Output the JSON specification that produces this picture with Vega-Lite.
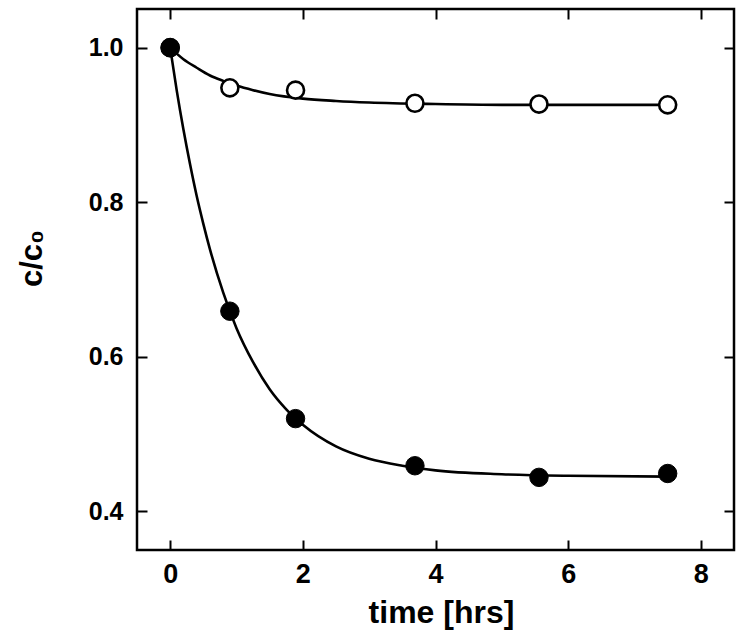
{
  "$schema": "https://vega.github.io/schema/vega-lite/v6.json",
  "width": 597,
  "height": 541,
  "autosize": {"type": "none"},
  "padding": {"left": 137, "top": 9, "right": 16, "bottom": 89},
  "background": "white",
  "config": {
    "view": {"stroke": "black", "strokeWidth": 2.5},
    "axis": {
      "domain": false,
      "grid": false,
      "tickSize": -10,
      "tickWidth": 2,
      "tickColor": "black",
      "labelFont": "Liberation Sans",
      "labelFontWeight": "bold",
      "labelColor": "black",
      "titleFont": "Liberation Sans",
      "titleFontWeight": "bold",
      "titleColor": "black"
    }
  },
  "datasets": {
    "points": [
      {"series": "open", "t": 0, "c": 1.0},
      {"series": "open", "t": 0.9, "c": 0.948},
      {"series": "open", "t": 1.89, "c": 0.945},
      {"series": "open", "t": 3.69, "c": 0.928},
      {"series": "open", "t": 5.56, "c": 0.927},
      {"series": "open", "t": 7.5, "c": 0.926},
      {"series": "filled", "t": 0, "c": 1.0},
      {"series": "filled", "t": 0.9, "c": 0.659},
      {"series": "filled", "t": 1.89, "c": 0.52},
      {"series": "filled", "t": 3.69, "c": 0.459},
      {"series": "filled", "t": 5.56, "c": 0.444},
      {"series": "filled", "t": 7.5, "c": 0.449}
    ],
    "fits": [
      {"series": "open", "t": 0, "c": 1.0},
      {"series": "open", "t": 0.2, "c": 0.985},
      {"series": "open", "t": 0.4, "c": 0.974},
      {"series": "open", "t": 0.6, "c": 0.964},
      {"series": "open", "t": 0.8, "c": 0.957},
      {"series": "open", "t": 1.0, "c": 0.951},
      {"series": "open", "t": 1.25, "c": 0.945},
      {"series": "open", "t": 1.5, "c": 0.94},
      {"series": "open", "t": 2.0, "c": 0.934},
      {"series": "open", "t": 2.5, "c": 0.931},
      {"series": "open", "t": 3.0, "c": 0.929},
      {"series": "open", "t": 4.0, "c": 0.927},
      {"series": "open", "t": 5.0, "c": 0.926},
      {"series": "open", "t": 7.5, "c": 0.926},
      {"series": "filled", "t": 0, "c": 1.0},
      {"series": "filled", "t": 0.1, "c": 0.944},
      {"series": "filled", "t": 0.2, "c": 0.894},
      {"series": "filled", "t": 0.3, "c": 0.849},
      {"series": "filled", "t": 0.4, "c": 0.808},
      {"series": "filled", "t": 0.5, "c": 0.772},
      {"series": "filled", "t": 0.6, "c": 0.739},
      {"series": "filled", "t": 0.8, "c": 0.683},
      {"series": "filled", "t": 1.0, "c": 0.637},
      {"series": "filled", "t": 1.25, "c": 0.593},
      {"series": "filled", "t": 1.5, "c": 0.558},
      {"series": "filled", "t": 1.75, "c": 0.532},
      {"series": "filled", "t": 2.0, "c": 0.512},
      {"series": "filled", "t": 2.5, "c": 0.484},
      {"series": "filled", "t": 3.0, "c": 0.468},
      {"series": "filled", "t": 3.5, "c": 0.459},
      {"series": "filled", "t": 4.0, "c": 0.453},
      {"series": "filled", "t": 5.0, "c": 0.448},
      {"series": "filled", "t": 6.0, "c": 0.446},
      {"series": "filled", "t": 7.5, "c": 0.445}
    ]
  },
  "layer": [
    {
      "encoding": {
        "x": {
          "field": "t",
          "type": "quantitative",
          "scale": {"domain": [-0.5, 8.5], "nice": false, "zero": false},
          "axis": {
            "orient": "bottom",
            "values": [0, 2, 4, 6, 8],
            "labelFontSize": 27,
            "labelPadding": 21,
            "title": "time [hrs]",
            "titleFontSize": 32,
            "titleX": 304,
            "titleY": 72,
            "titleBaseline": "alphabetic",
            "titleAlign": "center"
          }
        },
        "y": {
          "field": "c",
          "type": "quantitative",
          "scale": {"domain": [0.35, 1.05], "nice": false, "zero": false},
          "axis": {
            "orient": "left",
            "values": [0.4, 0.6, 0.8, 1.0],
            "format": ".1f",
            "labelFontSize": 25,
            "labelPadding": 24,
            "title": "c/c₀",
            "titleFontSize": 31,
            "titleAngle": 270,
            "titleX": -96,
            "titleY": 249,
            "titleBaseline": "alphabetic",
            "titleAlign": "center"
          }
        }
      },
      "layer": [
        {
          "data": {"name": "fits"},
          "mark": {"type": "line", "interpolate": "monotone", "color": "black", "strokeWidth": 2.6},
          "encoding": {"detail": {"field": "series"}}
        },
        {
          "data": {"name": "points"},
          "transform": [{"filter": "datum.series === 'open'"}],
          "mark": {"type": "point", "shape": "circle", "filled": true, "fill": "white", "stroke": "black", "strokeWidth": 2.6, "size": 290, "opacity": 1}
        },
        {
          "data": {"name": "points"},
          "transform": [{"filter": "datum.series === 'filled'"}],
          "mark": {"type": "point", "shape": "circle", "filled": true, "fill": "black", "stroke": "black", "strokeWidth": 1, "size": 340, "opacity": 1}
        }
      ]
    },
    {
      "data": {"name": "points"},
      "mark": {"type": "point", "opacity": 0},
      "encoding": {
        "x": {
          "field": "t",
          "type": "quantitative",
          "scale": {"domain": [-0.5, 8.5], "nice": false, "zero": false},
          "axis": {"orient": "top", "values": [0, 2, 4, 6, 8], "labels": false, "title": null}
        },
        "y": {
          "field": "c",
          "type": "quantitative",
          "scale": {"domain": [0.35, 1.05], "nice": false, "zero": false},
          "axis": {"orient": "right", "values": [0.4, 0.6, 0.8, 1.0], "labels": false, "title": null}
        }
      }
    }
  ],
  "resolve": {"scale": {"x": "independent", "y": "independent"}}
}
